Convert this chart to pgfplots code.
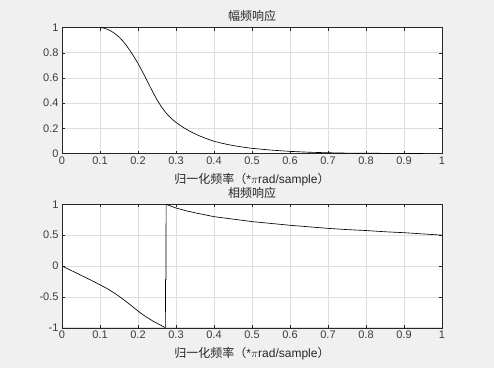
\documentclass[border=0pt]{standalone}
\usepackage{fontspec}
\setmainfont{Liberation Sans}
\newfontfamily\cjk{Noto Sans CJK SC}
\usepackage{pgfplots}
\pgfplotsset{compat=1.18}
\definecolor{bg}{HTML}{F0F0F0}
\definecolor{ax}{HTML}{262626}
\definecolor{gr}{HTML}{DEDEDE}
\pgfplotsset{
  mstyle/.style={
    scale only axis,
    width=380pt,
    xmin=0,xmax=1,
    axis line style={ax},
    axis background/.style={fill=white},
    grid=major,
    major grid style={gr, line width=0.5pt},
    tick style={ax, line width=0.4pt},
    major tick length=3pt,
    tick align=inside,
    xtick={0,0.1,...,1},
    xticklabels={0,0.1,0.2,0.3,0.4,0.5,0.6,0.7,0.8,0.9,1},
    /pgf/number format/assume math mode=true,
    ticklabel style={font=\fontsize{11}{13}\selectfont, text=ax!90},
    title style={at={(axis description cs:0.5,1)},anchor=center,inner sep=0pt,yshift=5.5pt,font=\cjk\fontsize{12}{13}\selectfont,text=ax},
    xlabel style={at={(axis description cs:0.5,0)},anchor=center,inner sep=0pt,yshift=-26pt,font=\fontsize{12}{13}\selectfont,text=ax},
    xlabel={{\cjk 归一化频率（}*$\pi$rad/sample{\cjk ）}},
  }
}
\begin{document}
\begin{tikzpicture}
\fill[bg] (0,0) rectangle (494pt,368pt);
\begin{axis}[mstyle, at={(62pt,214.5pt)}, anchor=south west, height=126pt,
  ymin=0,ymax=1, ytick={0,0.2,...,1}, yticklabels={0,0.2,0.4,0.6,0.8,1},
  title={幅频响应}]
\addplot[black, line width=0.65pt] coordinates {
(0.100,1.000) (0.110,0.995) (0.120,0.985) (0.130,0.970) (0.140,0.950)
(0.150,0.925) (0.160,0.893) (0.170,0.855) (0.180,0.812) (0.190,0.765)
(0.200,0.715) (0.210,0.659) (0.220,0.601) (0.230,0.541) (0.240,0.482)
(0.250,0.427) (0.260,0.378) (0.270,0.336) (0.280,0.301) (0.290,0.272)
(0.300,0.247) (0.320,0.205) (0.340,0.171) (0.360,0.142) (0.380,0.118)
(0.400,0.097) (0.420,0.082) (0.440,0.069) (0.460,0.058) (0.480,0.049)
(0.500,0.041) (0.550,0.027) (0.600,0.017) (0.650,0.010) (0.700,0.006)
(0.750,0.003) (0.800,0.002) (0.900,0.0005) (0.950,0.000)
};
\end{axis}
\begin{axis}[mstyle, at={(62pt,40.3pt)}, anchor=south west, height=123.4pt,
  ymin=-1,ymax=1, ytick={-1,-0.5,0,0.5,1}, yticklabels={-1,-0.5,0,0.5,1},
  title={相频响应}]
\addplot[black, line width=0.65pt] coordinates {
(0.00,0.000) (0.02,-0.060) (0.04,-0.120) (0.06,-0.180) (0.08,-0.240)
(0.10,-0.305) (0.12,-0.370) (0.14,-0.447) (0.16,-0.535) (0.18,-0.630)
(0.20,-0.730) (0.22,-0.820) (0.24,-0.895) (0.26,-0.960) (0.272,-1.000)
(0.2725,-0.22) (0.2735,-0.22) (0.274,1.000)
(0.28,0.985) (0.30,0.940) (0.33,0.890) (0.36,0.850) (0.40,0.800)
(0.45,0.760) (0.50,0.720) (0.55,0.690) (0.60,0.660) (0.65,0.635)
(0.70,0.610) (0.75,0.590) (0.80,0.575) (0.85,0.555) (0.90,0.540)
(0.95,0.520) (1.00,0.500)
};
\end{axis}
\end{tikzpicture}
\end{document}
